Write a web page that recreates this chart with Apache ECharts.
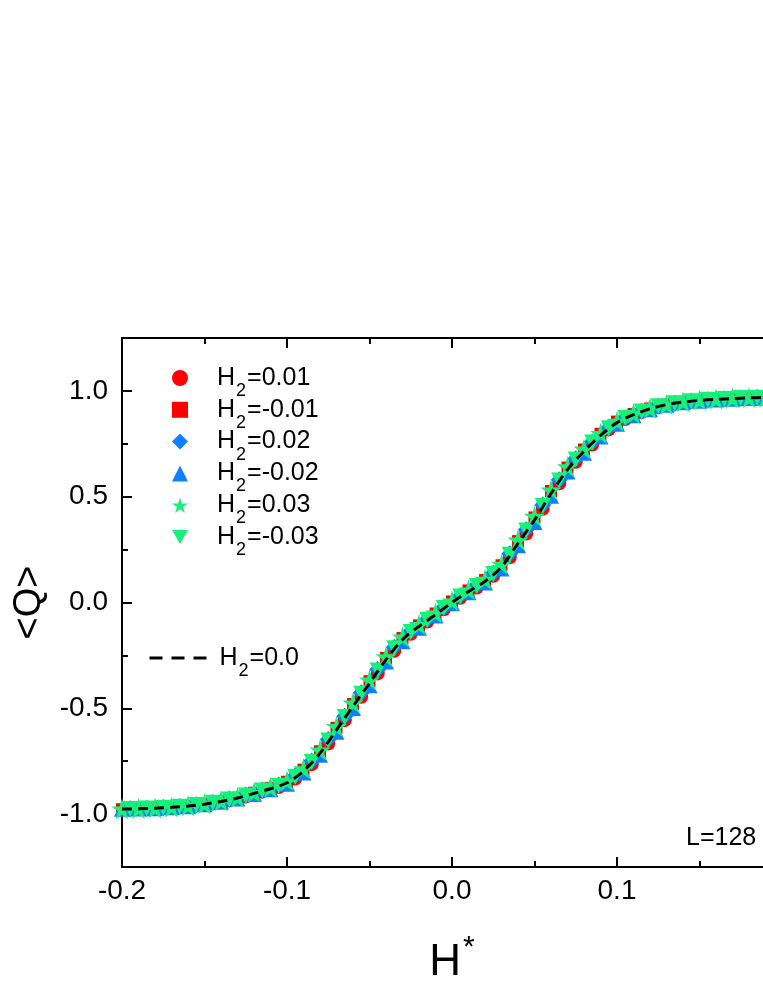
<!DOCTYPE html>
<html>
<head>
<meta charset="utf-8">
<script src="https://cdn.jsdelivr.net/npm/echarts@6/dist/echarts.min.js"></script>
<style>
  html, body { margin: 0; padding: 0; background: #fff; overflow: hidden; }
  #main { width: 800px; height: 987px; }
</style>
</head>
<body>
<div id="main"></div>
<script>
// H* grids
var hA = [-0.20,-0.19,-0.18,-0.17,-0.16,-0.15,-0.14,-0.13,-0.12,-0.11,
          -0.10,-0.09,-0.08,-0.07,-0.06,-0.05,-0.04,-0.03,-0.02,-0.01,
          0.00,
          0.01,0.02,0.03,0.04,0.05,0.06,0.07,0.08,0.09,0.10,
          0.11,0.12,0.13,0.14,0.15,0.16,0.17,0.18,0.19,0.20];
var hB = [-0.195,-0.185,-0.175,-0.165,-0.155,-0.145,-0.135,-0.125,-0.115,-0.105,
          -0.095,-0.085,-0.075,-0.065,-0.055,-0.045,-0.035,-0.025,-0.015,-0.005,
          0.005,0.015,0.025,0.035,0.045,0.055,0.065,0.075,0.085,0.095,
          0.105,0.115,0.125,0.135,0.145,0.155,0.165,0.175,0.185,0.195];

// <Q> values
var q001 = [-0.977,-0.975,-0.971,-0.966,-0.959,-0.949,-0.935,-0.917,-0.894,-0.872,
            -0.832,-0.764,-0.666,-0.556,-0.446,-0.335,-0.228,-0.148,-0.090,-0.032,
            0.022,0.071,0.126,0.214,0.326,0.443,0.563,0.665,0.747,0.818,
            0.867,0.900,0.924,0.940,0.950,0.957,0.962,0.965,0.968,0.970];
var qm001 = [-0.977,-0.975,-0.971,-0.967,-0.961,-0.952,-0.939,-0.922,-0.899,-0.876,
             -0.847,-0.790,-0.703,-0.592,-0.480,-0.372,-0.262,-0.168,-0.108,-0.052,
             0.005,
             0.057,0.106,0.176,0.290,0.402,0.527,0.638,0.723,0.797,0.855,
             0.891,0.917,0.936,0.948,0.956,0.961,0.965,0.968,0.970,0.972];
var q002 = [-0.975,-0.973,-0.969,-0.964,-0.956,-0.945,-0.929,-0.910,-0.886,-0.863,
            -0.819,-0.749,-0.648,-0.537,-0.427,-0.317,-0.212,-0.136,-0.080,-0.024,
            0.031,0.081,0.138,0.230,0.344,0.461,0.580,0.679,0.758,0.826,
            0.873,0.904,0.927,0.942,0.952,0.958,0.963,0.966,0.969,0.971];
var qm002 = [-0.975,-0.974,-0.972,-0.968,-0.963,-0.954,-0.942,-0.926,-0.905,-0.883,
             -0.857,-0.803,-0.720,-0.611,-0.499,-0.391,-0.279,-0.183,-0.119,-0.062,
             -0.004,
             0.048,0.095,0.161,0.271,0.381,0.505,0.619,0.708,0.784,0.845,
             0.885,0.913,0.934,0.946,0.954,0.959,0.963,0.966,0.968,0.970];
var q003 = [-0.975,-0.974,-0.971,-0.966,-0.960,-0.951,-0.937,-0.920,-0.897,-0.873,
            -0.843,-0.785,-0.697,-0.586,-0.474,-0.366,-0.256,-0.163,-0.104,-0.049,
            0.008,
            0.060,0.110,0.181,0.296,0.408,0.532,0.642,0.726,0.799,0.857,
            0.893,0.918,0.937,0.949,0.957,0.962,0.966,0.968,0.970,0.972];
var qm003 = [-0.976,-0.974,-0.970,-0.965,-0.957,-0.946,-0.931,-0.912,-0.888,-0.866,
             -0.823,-0.753,-0.652,-0.541,-0.431,-0.321,-0.216,-0.139,-0.083,-0.026,
             0.028,0.078,0.135,0.226,0.340,0.456,0.576,0.676,0.756,0.824,
             0.872,0.903,0.927,0.942,0.951,0.958,0.962,0.966,0.968,0.970];
var q000 = [-0.976,-0.975,-0.972,-0.968,-0.962,-0.953,-0.940,-0.924,-0.902,-0.880,
            -0.852,-0.797,-0.712,-0.602,-0.490,-0.382,-0.270,-0.175,-0.113,-0.057,
            0.000,
            0.052,0.100,0.168,0.280,0.390,0.515,0.628,0.715,0.790,0.850,
            0.888,0.915,0.935,0.947,0.955,0.960,0.964,0.967,0.969,0.971];

var xTicks = [-0.2, -0.1, 0.0, 0.1, 0.2];
var yTicks = [-1.0, -0.5, 0.0, 0.5, 1.0];

var markerNames = ['H2=0.01', 'H2=-0.01', 'H2=0.02', 'H2=-0.02', 'H2=0.03', 'H2=-0.03'];
var lineName = 'H2=0.0';

var FONT = '"Liberation Sans", Arial, sans-serif';
var RED = '#ff0000', BLUE = '#0f7fff', GREEN = '#18f07c';
var STAR = 'path://M50,0 L61,35 L98,35 L68,57 L79,91 L50,70 L21,91 L32,57 L2,35 L39,35 Z';
var DOWN = 'path://M0,0 L100,0 L50,88 Z';

function zip(xs, ys) {
  var out = [];
  for (var i = 0; i < xs.length; i++) out.push([xs[i], ys[i]]);
  return out;
}

function legendText(n) {
  return '{sp|}{a|H}{s|2}{a|' + n.slice(2) + '}';
}

function legendRich(spw) {
  return {
    sp: { width: spw },
    a: { fontSize: 25, fontFamily: FONT, color: '#000', lineHeight: 28 },
    s: { fontSize: 18, fontFamily: FONT, color: '#000', lineHeight: 18, padding: [26, 1, 0, 1] }
  };
}

// one legend box per entry so the rows can sit where the original has them
var legends = [];
markerNames.forEach(function (n, i) {
  legends.push({
    data: [n],
    padding: 0,
    left: 172, top: 356 + i * 31.8,
    itemWidth: 16, itemHeight: 16,
    formatter: legendText,
    textStyle: { rich: legendRich(24) }
  });
});
legends.push({
  data: [lineName],
  padding: 0,
  left: 148, top: 636,
  itemWidth: 58, itemHeight: 16,
  itemStyle: { opacity: 0 },
  lineStyle: { type: [13, 9], width: 3, color: '#000' },
  formatter: legendText,
  textStyle: { rich: legendRich(7) }
});

var chart = echarts.init(document.getElementById('main'));

var option = {
  animation: false,
  backgroundColor: '#fff',
  grid: { left: 122, top: 338, width: 660, bottom: 120, outerBoundsMode: 'none' },
  legend: legends,
  xAxis: [
    {
      type: 'value', min: -0.2, max: 0.2, interval: 0.1,
      position: 'bottom',
      name: '{h|H}{st|*}', nameLocation: 'middle', nameGap: 66,
      nameTextStyle: {
        rich: {
          h: { fontSize: 44, fontFamily: FONT, color: '#000' },
          st: { fontSize: 30, fontFamily: FONT, color: '#000', padding: [0, 0, 30, 2] }
        }
      },
      axisLine: { show: true, onZero: false, lineStyle: { color: '#000', width: 2 } },
      axisTick: { show: true, inside: true, length: 10, lineStyle: { color: '#000', width: 2 } },
      minorTick: { show: true, splitNumber: 2, length: 6, lineStyle: { color: '#000', width: 2 } },
      axisLabel: {
        margin: 10, fontSize: 28, fontFamily: FONT, color: '#000',
        customValues: xTicks,
        formatter: function (v) { return v.toFixed(1); }
      },
      splitLine: { show: false }
    },
    {
      type: 'value', min: -0.2, max: 0.2, interval: 0.1,
      position: 'top',
      axisLine: { show: true, onZero: false, lineStyle: { color: '#000', width: 2 } },
      axisTick: { show: true, inside: true, length: 10, lineStyle: { color: '#000', width: 2 } },
      minorTick: { show: true, splitNumber: 2, length: 6, lineStyle: { color: '#000', width: 2 } },
      axisLabel: { show: false },
      splitLine: { show: false }
    }
  ],
  yAxis: [
    {
      type: 'value', min: -1.25, max: 1.25,
      position: 'left',
      name: '<Q>', nameLocation: 'middle', nameGap: 72, nameRotate: 90,
      nameTextStyle: { fontSize: 38, fontFamily: FONT, color: '#000' },
      axisLine: { show: true, onZero: false, lineStyle: { color: '#000', width: 2 } },
      axisTick: { show: true, inside: true, length: 10, customValues: yTicks, lineStyle: { color: '#000', width: 2 } },
      axisLabel: {
        margin: 14, fontSize: 28, fontFamily: FONT, color: '#000',
        customValues: yTicks,
        formatter: function (v) { return v.toFixed(1); }
      },
      splitLine: { show: false }
    },
    {
      // minor ticks at 0.25 on the same left axis
      type: 'value', min: -1.25, max: 1.25, interval: 0.25,
      position: 'left',
      axisLine: { show: false, onZero: false },
      axisTick: { show: true, inside: true, length: 6, lineStyle: { color: '#000', width: 2 } },
      axisLabel: { show: false },
      splitLine: { show: false }
    },
    {
      type: 'value', min: -1.25, max: 1.25,
      position: 'right',
      axisLine: { show: true, onZero: false, lineStyle: { color: '#000', width: 2 } },
      axisTick: { show: false },
      axisLabel: { show: false },
      splitLine: { show: false }
    }
  ],
  graphic: [
    {
      type: 'text', left: 686, top: 826,
      style: { text: 'L=128', fontSize: 25, fontFamily: FONT, fill: '#000' }
    }
  ],
  series: [
    { name: markerNames[0], type: 'scatter', symbol: 'circle', symbolSize: 14,
      itemStyle: { color: RED, opacity: 1 }, data: zip(hB, q001) },
    { name: markerNames[1], type: 'scatter', symbol: 'rect', symbolSize: 12,
      itemStyle: { color: RED, opacity: 1 }, data: zip(hA, qm001) },
    { name: markerNames[2], type: 'scatter', symbol: 'diamond', symbolSize: 17,
      itemStyle: { color: BLUE, opacity: 1 }, data: zip(hB, q002) },
    { name: markerNames[3], type: 'scatter', symbol: 'triangle', symbolSize: 16,
      itemStyle: { color: BLUE, opacity: 1 }, data: zip(hA, qm002) },
    { name: markerNames[4], type: 'scatter', symbol: STAR, symbolSize: 21,
      itemStyle: { color: GREEN, opacity: 1 }, data: zip(hA, q003) },
    { name: markerNames[5], type: 'scatter', symbol: DOWN, symbolSize: 16,
      itemStyle: { color: GREEN, opacity: 1 }, data: zip(hB, qm003) },
    { name: lineName, type: 'line', symbol: 'none', smooth: 0.3, z: 5,
      lineStyle: { color: '#000', width: 3, type: [10, 6] },
      itemStyle: { color: '#000' },
      data: zip(hA, q000) }
  ]
};

chart.setOption(option);
</script>
</body>
</html>
